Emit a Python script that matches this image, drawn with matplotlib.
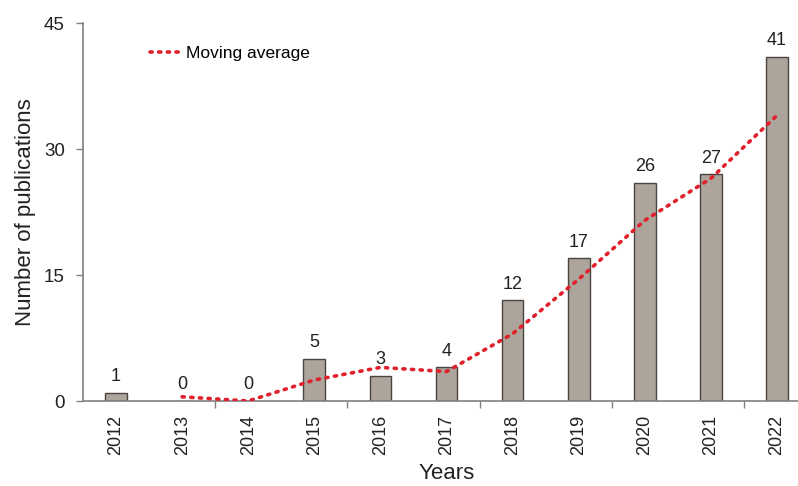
import matplotlib.pyplot as plt

years = ["2012", "2013", "2014", "2015", "2016", "2017",
         "2018", "2019", "2020", "2021", "2022"]
counts = [1, 0, 0, 5, 3, 4, 12, 17, 26, 27, 41]
# two-year moving average, starts at 2013
ma_years = years[1:]
ma_values = [0.5, 0, 2.5, 4, 3.5, 8, 14.5, 21.5, 26.5, 34]

plt.rcParams['font.family'] = ['Liberation Sans', 'DejaVu Sans']

fig = plt.figure(figsize=(7.98, 4.86), dpi=100)
# axes runs a little past the right edge, like the original
ax = fig.add_axes([83 / 798, 1 - 401 / 486, (810 - 83) / 798, (401 - 23) / 486])

x = list(range(len(years)))
ax.bar(x, counts, width=0.33, color="#ada49b", edgecolor="#4a4440", linewidth=1.0, zorder=2)

for xi, c in zip(x, counts):
    ax.text(xi, c + 0.9, str(c), ha="center", va="bottom", fontsize=13, color="#222222", zorder=3)

ma_x = [years.index(y) for y in ma_years]
ax.plot(ma_x, ma_values, color="#e0202a", linestyle=(0, (0.6, 1.8)), linewidth=2.6,
        dash_capstyle="round", label="Moving average", zorder=4)

ax.set_xlim(-0.5, 10.5)
ax.set_ylim(0, 45)
ax.set_yticks([0, 15, 30, 45])
ax.set_xticks(x)
ax.set_xticklabels(years, rotation=90, fontsize=13, color="#222222")
ax.set_xticks([1.5, 3.5, 5.5, 7.5, 9.5], minor=True)
ax.tick_params(axis="x", which="major", length=0, pad=10)
ax.tick_params(axis="x", which="minor", length=5, color="#808080", width=1)
ax.tick_params(axis="y", length=5, color="#808080", width=1, labelsize=13.5, labelcolor="#222222", pad=8)

for s in ["top", "right"]:
    ax.spines[s].set_visible(False)
for s in ["left", "bottom"]:
    ax.spines[s].set_color("#808080")
    ax.spines[s].set_linewidth(1.2)

ax.set_xlabel("Years", fontsize=16, color="#222222", labelpad=6)
ax.set_ylabel("Number of publications", fontsize=16, color="#222222", labelpad=6)

ax.legend(loc="upper left", bbox_to_anchor=(0.07, 0.98), frameon=False, fontsize=12.5,
          handlelength=1.8, handletextpad=0.3)

fig.savefig("out.png", dpi=100)
